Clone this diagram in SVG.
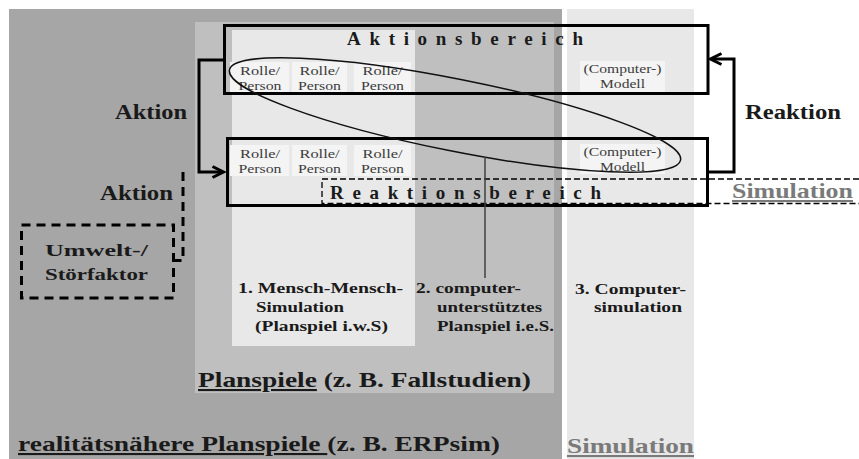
<svg xmlns="http://www.w3.org/2000/svg" width="859" height="459" viewBox="0 0 859 459">
<defs>
<style>
text{font-family:"Liberation Serif","Times New Roman",serif;fill:#1a1a1a}
.b{font-weight:bold}
.role{font-size:13.5px;fill:#3c3c3c;text-anchor:middle}
.cell{fill:#f4f4f4}
.box{fill:none;stroke:#000;stroke-width:3}
.lbl{font-size:20px;font-weight:bold}
.cat{font-size:15px;font-weight:bold}
.big{font-size:21px;font-weight:bold}
.gray{fill:#7a7a7a}
.u{text-decoration:underline}
.title{font-size:19px;font-weight:bold}
.arrow{fill:none;stroke:#000;stroke-width:3}
.dash{fill:none;stroke:#000;stroke-width:3;stroke-dasharray:9 6}
</style>
<marker id="chev" markerUnits="userSpaceOnUse" markerWidth="16" markerHeight="16" viewBox="-2 -2 16 16" refX="10.5" refY="5.5" orient="auto">
<path d="M0,0 L11,5.5 L0,11" fill="none" stroke="#000" stroke-width="3"/>
</marker>
</defs>

<g id="background">
<rect x="9" y="9" width="553" height="450" fill="#a6a6a6"/>
<rect x="567" y="9" width="127" height="450" fill="#e8e8e8"/>
<rect x="195" y="22" width="359" height="371" fill="#bfbfbf"/>
<rect x="232" y="30" width="183" height="316" fill="#e8e8e8"/>
</g>

<g id="aktionsbereich">
<rect class="cell" x="230" y="62" width="59" height="30"/>
<rect class="cell" x="292" y="62" width="55" height="30"/>
<rect class="cell" x="354" y="62" width="57" height="30"/>
<rect class="cell" x="580" y="61" width="85" height="31"/>
<rect class="box" x="224.5" y="25.5" width="483.5" height="68"/>
<text class="title" x="347" y="45" textLength="236" lengthAdjust="spacing">Aktionsbereich</text>
<text class="role" x="260" y="75" textLength="40" lengthAdjust="spacingAndGlyphs">Rolle/</text><text class="role" x="260" y="90" textLength="43" lengthAdjust="spacingAndGlyphs">Person</text>
<text class="role" x="319.5" y="75" textLength="40" lengthAdjust="spacingAndGlyphs">Rolle/</text><text class="role" x="319.5" y="90" textLength="43" lengthAdjust="spacingAndGlyphs">Person</text>
<text class="role" x="382.5" y="75" textLength="40" lengthAdjust="spacingAndGlyphs">Rolle/</text><text class="role" x="382.5" y="90" textLength="43" lengthAdjust="spacingAndGlyphs">Person</text>
<text class="role" x="622.5" y="73" textLength="78" lengthAdjust="spacingAndGlyphs">(Computer-)</text><text class="role" x="622.5" y="88" textLength="45" lengthAdjust="spacingAndGlyphs">Modell</text>
</g>

<g id="reaktionsbereich">
<rect class="cell" x="230" y="145" width="59" height="31"/>
<rect class="cell" x="292" y="145" width="55" height="31"/>
<rect class="cell" x="354" y="145" width="57" height="31"/>
<rect class="cell" x="580" y="144" width="85" height="30"/>
<rect class="box" x="227.5" y="138.5" width="480" height="67"/>
<text class="role" x="260" y="158" textLength="40" lengthAdjust="spacingAndGlyphs">Rolle/</text><text class="role" x="260" y="173" textLength="43" lengthAdjust="spacingAndGlyphs">Person</text>
<text class="role" x="319.5" y="158" textLength="40" lengthAdjust="spacingAndGlyphs">Rolle/</text><text class="role" x="319.5" y="173" textLength="43" lengthAdjust="spacingAndGlyphs">Person</text>
<text class="role" x="382.5" y="158" textLength="40" lengthAdjust="spacingAndGlyphs">Rolle/</text><text class="role" x="382.5" y="173" textLength="43" lengthAdjust="spacingAndGlyphs">Person</text>
<text class="role" x="622.5" y="156" textLength="78" lengthAdjust="spacingAndGlyphs">(Computer-)</text><text class="role" x="622.5" y="171" textLength="45" lengthAdjust="spacingAndGlyphs">Modell</text>
</g>

<g id="simulation-band">
<path d="M859,179 H322 V203.5 H859" fill="none" stroke="#000" stroke-width="1.3" stroke-dasharray="6 3"/>
<text class="title" x="330" y="199" textLength="271" lengthAdjust="spacing">Reaktionsbereich</text>
<text class="big gray" x="732" y="198" textLength="121" lengthAdjust="spacingAndGlyphs"><tspan class="u">Simulation</tspan></text>
</g>

<g id="umwelt">
<rect class="dash" x="21.5" y="225" width="152" height="73"/>
<text class="b" font-size="17" x="45" y="256" textLength="103" lengthAdjust="spacingAndGlyphs">Umwelt-/</text>
<text class="b" font-size="17" x="45" y="280" textLength="103" lengthAdjust="spacingAndGlyphs">Störfaktor</text>
</g>

<g id="grouping">
<ellipse cx="455" cy="115" rx="230" ry="36" transform="rotate(11.3 455 115)" fill="none" stroke="#111" stroke-width="1.5"/>
<line x1="485" y1="157" x2="485" y2="278" stroke="#404040" stroke-width="1.5"/>
</g>

<g id="categories">
<text class="cat" x="238" y="293" textLength="165" lengthAdjust="spacingAndGlyphs">1. Mensch-Mensch-</text>
<text class="cat" x="256" y="312" textLength="88" lengthAdjust="spacingAndGlyphs">Simulation</text>
<text class="cat" x="255" y="331" textLength="133" lengthAdjust="spacingAndGlyphs">(Planspiel i.w.S)</text>
<text class="cat" x="416" y="293" textLength="105" lengthAdjust="spacingAndGlyphs">2. computer-</text>
<text class="cat" x="437" y="312" textLength="105" lengthAdjust="spacingAndGlyphs">unterstütztes</text>
<text class="cat" x="437" y="331" textLength="117" lengthAdjust="spacingAndGlyphs">Planspiel i.e.S.</text>
<text class="cat" x="575" y="294" textLength="111" lengthAdjust="spacingAndGlyphs">3. Computer-</text>
<text class="cat" x="594" y="312" textLength="88" lengthAdjust="spacingAndGlyphs">simulation</text>
<text class="big" x="198" y="387" textLength="333" lengthAdjust="spacingAndGlyphs"><tspan class="u">Planspiele</tspan> (z. B. Fallstudien)</text>
<text class="big" x="18" y="451" textLength="482" lengthAdjust="spacingAndGlyphs"><tspan class="u">realitätsnähere Planspiele </tspan>(z. B. ERPsim)</text>
<text class="big gray" x="567" y="453" textLength="127" lengthAdjust="spacingAndGlyphs"><tspan class="u">Simulation</tspan></text>
</g>

<g id="connectors">
<path class="arrow" d="M224,60 H199 V172 H223" marker-end="url(#chev)"/>
<path class="arrow" d="M709,172 H734 V59 H711" marker-end="url(#chev)"/>
<path class="dash" d="M183,172 V260.5 H174"/>
<text class="lbl" x="115" y="119" textLength="72" lengthAdjust="spacingAndGlyphs">Aktion</text>
<text class="lbl" x="100" y="200" textLength="73" lengthAdjust="spacingAndGlyphs">Aktion</text>
<text class="lbl" x="745" y="119" textLength="96" lengthAdjust="spacingAndGlyphs">Reaktion</text>
</g>
</svg>
